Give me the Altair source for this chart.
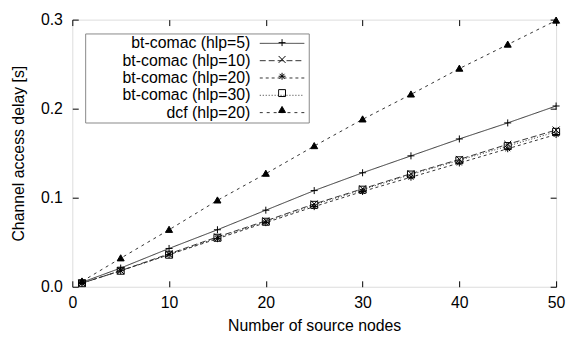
import altair as alt
import pandas as pd

nodes = [1, 5, 10, 15, 20, 25, 30, 35, 40, 45, 50]
series_names = ["bt-comac (hlp=5)", "bt-comac (hlp=10)", "bt-comac (hlp=20)",
                "bt-comac (hlp=30)", "dcf (hlp=20)"]
marker_codes = ["plus", "cross", "star", "box", "triangle"]
hlp5 = [0.005, 0.021, 0.043, 0.064, 0.086, 0.108, 0.128, 0.147, 0.166, 0.184, 0.203]
hlp10 = [0.004, 0.018, 0.037, 0.056, 0.074, 0.093, 0.110, 0.127, 0.143, 0.160, 0.176]
hlp20 = [0.004, 0.018, 0.036, 0.054, 0.072, 0.090, 0.107, 0.123, 0.139, 0.155, 0.171]
hlp30 = [0.004, 0.018, 0.036, 0.055, 0.073, 0.092, 0.109, 0.126, 0.142, 0.158, 0.174]
dcf = [0.006, 0.032, 0.064, 0.097, 0.127, 0.158, 0.188, 0.216, 0.245, 0.272, 0.299]
x_ticks = [0, 10, 20, 30, 40, 50]
y_ticks = [0.0, 0.1, 0.2, 0.3]

rows = []
for name, code, vals in zip(series_names, marker_codes, [hlp5, hlp10, hlp20, hlp30, dcf]):
    for n, v in zip(nodes, vals):
        rows.append({"nodes": n, "delay": v, "series": name, "marker": code})
df = pd.DataFrame(rows)

W, H = 489, 270
FONT = "Liberation Sans"
xs = alt.Scale(domain=[0, 50], nice=False, zero=False)
ys = alt.Scale(domain=[0, 0.3], nice=False)

dash_range = [[1, 0], [6, 3], [3, 3], [1, 2], [3, 4]]
shape_range = [
    "M-1,0L1,0M0,-1L0,1",
    "M-1,-1L1,1M-1,1L1,-1",
    "M-1,0L1,0M0,-1L0,1M-0.7,-0.7L0.7,0.7M-0.7,0.7L0.7,-0.7",
    "M-1,-1L1,-1L1,1L-1,1Z",
    "M0,-1L1,0.75L-1,0.75Z",
]
fill_range = ["transparent", "transparent", "transparent", "transparent", "black"]
stroke_range = ["black", "black", "black", "black", "black"]

base = alt.Chart(df)

lines = base.mark_line(color="#333333", strokeWidth=1).encode(
    x=alt.X("nodes:Q", scale=xs, axis=alt.Axis(
        values=x_ticks, ticks=False, domain=False, grid=False, labelFlush=False,
        labelFontSize=16, labelPadding=8, labelColor="black",
        title="Number of source nodes", titleFontSize=16, titleFontWeight="normal",
        titlePadding=7, titleColor="black")),
    y=alt.Y("delay:Q", scale=ys, axis=alt.Axis(
        values=y_ticks, format=".1f", ticks=False, domain=False, grid=False,
        labelFlush=False, labelFontSize=16, labelPadding=10, labelColor="black",
        title="Channel access delay [s]", titleFontSize=16, titleFontWeight="normal",
        titlePadding=14, titleColor="black")),
    strokeDash=alt.StrokeDash("series:N", scale=alt.Scale(domain=series_names, range=dash_range),
                              sort=series_names,
                              legend=alt.Legend(
                                  title=None, orient="none", legendX=13, legendY=14,
                                  strokeColor="#888888", padding=2,
                                  symbolType="M-3,0L3,0", symbolSize=225, symbolStrokeWidth=1,
                                  symbolStrokeColor="#333333",
                                  labelFontSize=16, labelFont=FONT, labelColor="black",
                                  labelAlign="right", labelOffset={"expr": "-40"},
                                  symbolOffset=189, rowPadding=1.5, labelLimit=0)),
)

points = base.mark_point(strokeWidth=1, size=50, opacity=1).encode(
    x=alt.X("nodes:Q", scale=xs, axis=None),
    y=alt.Y("delay:Q", scale=ys, axis=None),
    shape=alt.Shape("marker:N", scale=alt.Scale(domain=marker_codes, range=shape_range),
                    sort=marker_codes,
                    legend=alt.Legend(
                        title=None, orient="none", legendX=208, legendY=15, padding=0,
                        symbolSize=49, symbolStrokeWidth=1, symbolStrokeColor="black",
                        clipHeight=16.5, rowPadding=0, labelExpr="''", labelOffset=0,
                        labelFontSize=1)),
    fill=alt.Fill("marker:N", scale=alt.Scale(domain=marker_codes, range=fill_range), legend=None),
    stroke=alt.Stroke("marker:N", scale=alt.Scale(domain=marker_codes, range=stroke_range), legend=None),
)

ticks_a = base.mark_point(opacity=0).encode(
    x=alt.X("nodes:Q", scale=xs, axis=alt.Axis(
        orient="top", offset=-H, values=x_ticks, labels=False, domain=False, grid=False,
        tickSize=6, tickColor="black", tickWidth=1, title=None)),
    y=alt.Y("delay:Q", scale=ys, axis=alt.Axis(
        orient="right", offset=-W, values=y_ticks, labels=False, domain=False, grid=False,
        tickSize=6, tickColor="black", tickWidth=1, title=None)),
)

ticks_b = base.mark_point(opacity=0).encode(
    x=alt.X("nodes:Q", scale=xs, axis=alt.Axis(
        orient="bottom", offset=-H, values=x_ticks, labels=False, domain=False, grid=False,
        tickSize=6, tickColor="black", tickWidth=1, title=None)),
    y=alt.Y("delay:Q", scale=ys, axis=alt.Axis(
        orient="left", offset=-W, values=y_ticks, labels=False, domain=False, grid=False,
        tickSize=6, tickColor="black", tickWidth=1, title=None)),
)

chart = alt.layer(lines, points, ticks_a, ticks_b).resolve_axis(
    x="independent", y="independent"
).properties(
    width=W, height=H, autosize="none",
    padding={"left": 65, "top": 10, "right": 10, "bottom": 45},
).configure_view(
    stroke="black", strokeWidth=1.5
).configure(
    font=FONT
)

chart.save("out.html", embed_options={"renderer": "svg", "actions": False})
